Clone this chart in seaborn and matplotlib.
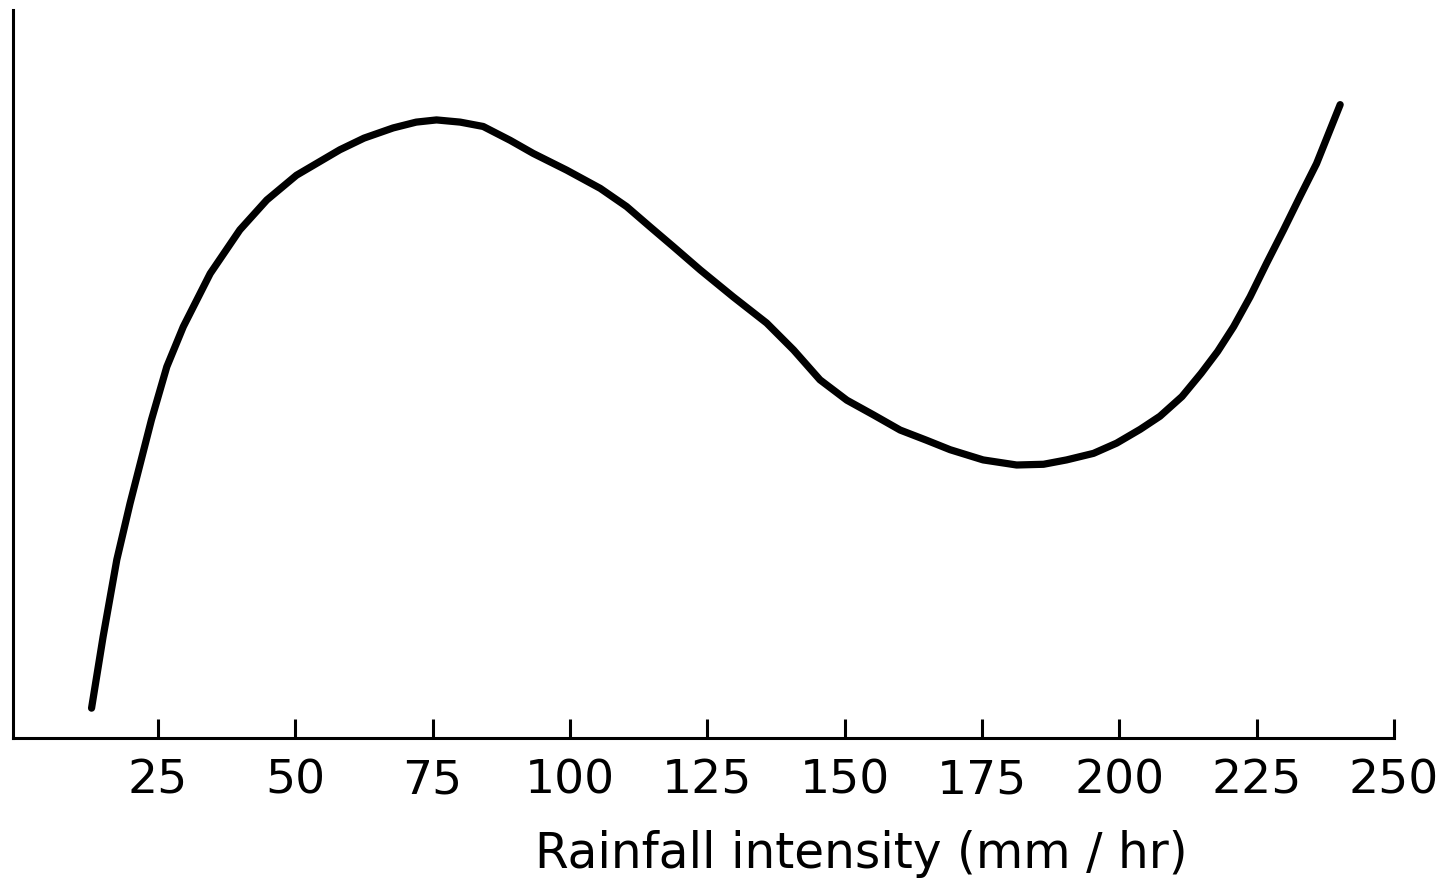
import matplotlib
matplotlib.use("Agg")
import matplotlib.pyplot as plt
import seaborn as sns
import pandas as pd

# Data (y in arbitrary relative units, 0-100)
rainfall_intensity = [12.9, 15.0, 17.5, 19.9, 23.8, 26.6, 29.6, 34.5, 39.9, 44.8,
                      50.2, 58.1, 62.5, 67.8, 72.0, 75.7, 80.0, 84.2, 89.1,
                      93.3, 99.4, 105.5, 110.3, 114.6, 118.8, 123.7, 129.7, 135.8,
                      140.7, 145.5, 150.4, 155.2, 160.1, 164.9, 169.2, 175.2, 181.3,
                      186.2, 190.4, 195.3, 199.5, 203.8, 207.4, 211.4, 214.9, 217.9,
                      220.8, 223.8, 226.8, 229.9, 232.9, 235.9, 240.2]
response = [4.1, 13.9, 24.5, 32.2, 43.7, 51.0, 56.5, 63.8, 69.8, 73.9,
            77.3, 80.8, 82.4, 83.8, 84.6, 84.9, 84.6, 84.0, 82.1,
            80.3, 78.0, 75.5, 73.0, 70.2, 67.5, 64.3, 60.6, 57.0,
            53.3, 49.2, 46.4, 44.4, 42.3, 40.9, 39.6, 38.2, 37.5,
            37.6, 38.2, 39.1, 40.5, 42.4, 44.2, 46.9, 50.1, 53.1,
            56.5, 60.6, 65.2, 69.8, 74.4, 78.9, 87.0]
x_ticks = [25, 50, 75, 100, 125, 150, 175, 200, 225, 250]
x_label = "Rainfall intensity (mm / hr)"

sns.set_style("ticks")
plt.rcParams['font.family'] = ['DejaVu Sans']

df = pd.DataFrame({"x": rainfall_intensity, "y": response})

fig = plt.figure(figsize=(14.52, 8.84), dpi=100)
ax = fig.add_axes([13 / 1452, 1 - 738 / 884, (1394 - 13) / 1452, (738 - 10) / 884])

sns.lineplot(data=df, x="x", y="y", ax=ax, color="black", linewidth=5.2,
             sort=False, estimator=None)
for l in ax.get_lines():
    l.set_solid_capstyle("round")
    l.set_solid_joinstyle("round")

ax.set_xlim(-1.4, 250)
ax.set_ylim(0, 100)
ax.set_xticks(x_ticks)
ax.set_xticklabels([str(t) for t in x_ticks], fontsize=34)
ax.set_yticks([])
ax.set_ylabel("")
ax.set_xlabel(x_label, fontsize=35, color="black")
ax.xaxis.set_label_coords((861 - 13) / (1394 - 13), (738 - 830) / 728)

for s in ["top", "right"]:
    ax.spines[s].set_visible(False)
for s in ["left", "bottom"]:
    ax.spines[s].set_color("black")
    ax.spines[s].set_linewidth(2.2)

ax.tick_params(axis="x", direction="in", length=14, width=2.2, color="black",
               pad=15, labelcolor="black")

fig.savefig("out.png", dpi=100, facecolor="white")
